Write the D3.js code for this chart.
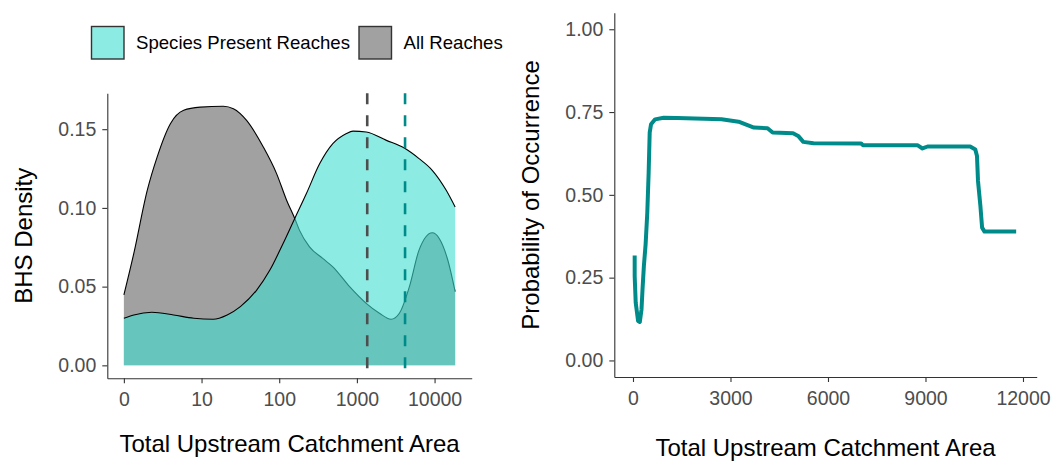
<!DOCTYPE html>
<html>
<head>
<meta charset="utf-8">
<script src="https://cdn.jsdelivr.net/npm/d3@7"></script>
<style>
  body { margin: 0; background: #fff; }
  text { font-family: 'Liberation Sans', Arial, sans-serif; }
</style>
</head>
<body>
<div id="chart"></div>
<script>
// density panel: x is log10 of upstream area
const logTicks = [0, 1, 2, 3, 4]
const logTickLabels = ['0', '10', '100', '1000', '10000']
const densityTicks = [0, 0.05, 0.1, 0.15]

const allReachesX = [0, 0.128, 0.3, 0.428, 0.599, 0.77, 0.983, 1.28, 1.41, 1.58, 1.795, 1.966, 2.095, 2.2, 2.26, 2.39, 2.56, 2.69, 2.906, 3.12, 3.29, 3.44, 3.547, 3.676, 3.8, 3.97, 4.06, 4.17, 4.265]
const allReachesY = [0.0447, 0.0711, 0.111, 0.1323, 0.1535, 0.162, 0.164, 0.1646, 0.163, 0.1556, 0.1387, 0.1218, 0.1049, 0.0933, 0.0859, 0.0753, 0.0679, 0.0626, 0.05, 0.0394, 0.0331, 0.0293, 0.0331, 0.05, 0.0732, 0.0842, 0.0806, 0.0669, 0.0468]

const presentX = [0, 0.128, 0.36, 0.64, 0.9, 1.15, 1.33, 1.5, 1.71, 1.88, 2.05, 2.2, 2.35, 2.52, 2.69, 2.86, 2.95, 3.12, 3.38, 3.61, 3.8, 3.97, 4.15, 4.265]
const presentY = [0.0299, 0.032, 0.0337, 0.032, 0.0299, 0.0293, 0.032, 0.0373, 0.0478, 0.0605, 0.0774, 0.0933, 0.1091, 0.128, 0.1408, 0.1471, 0.1488, 0.1482, 0.1429, 0.138, 0.1313, 0.1239, 0.1112, 0.1006]

// mean lines (log10 area)
const meanAll = 3.133
const meanPresent = 3.62

const legendLabels = ['Species Present Reaches', 'All Reaches']

// occurrence panel
const areaTicks = [0, 3000, 6000, 9000, 12000]
const probTicks = [0, 0.25, 0.5, 0.75, 1]
const probArea = [52, 52, 84, 157, 210, 262, 293, 335, 388, 440, 482, 514, 555, 681, 943, 1362, 2725, 3249, 3720, 4140, 4297, 4926, 5083, 5240, 5554, 7022, 7074, 8750, 8908, 9065, 10375, 10533, 10585, 10616, 10690, 10742, 10816, 11790]
const probValue = [0.317, 0.255, 0.174, 0.119, 0.116, 0.154, 0.214, 0.285, 0.35, 0.446, 0.567, 0.688, 0.713, 0.728, 0.733, 0.732, 0.728, 0.721, 0.703, 0.701, 0.688, 0.686, 0.678, 0.66, 0.656, 0.655, 0.65, 0.65, 0.64, 0.646, 0.646, 0.637, 0.617, 0.542, 0.466, 0.401, 0.389, 0.389]

const svg = d3.select('#chart')
  .append('svg')
  .attr('width', 1054)
  .attr('height', 463)

const axisColor = '#333333'
const tickTextColor = '#4d4d4d'

function styleAxis(g) {
  g.select('.domain').attr('stroke', axisColor).attr('stroke-width', 1.1)
  g.selectAll('.tick line').attr('stroke', axisColor).attr('stroke-width', 1.1)
  g.selectAll('.tick text')
    .attr('fill', tickTextColor)
    .attr('font-size', 19.5)
    .attr('font-family', "'Liberation Sans', Arial, sans-serif")
}

/* ---------- left panel ---------- */
const xL = d3.scaleLinear().domain([-0.2133, 4.478]).range([107.3, 471.7])
const yL = d3.scaleLinear().domain([-0.00823, 0.1728]).range([378.3, 93.3])

const allData = allReachesX.map((x, i) => ({ x: x, y: allReachesY[i] }))
const presentData = presentX.map((x, i) => ({ x: x, y: presentY[i] }))

const area = d3.area()
  .x(d => xL(d.x))
  .y0(yL(0))
  .y1(d => yL(d.y))
  .curve(d3.curveMonotoneX)

const topLine = d3.line()
  .x(d => xL(d.x))
  .y(d => yL(d.y))
  .curve(d3.curveMonotoneX)

svg.append('path')
  .datum(allData)
  .attr('d', area)
  .attr('fill', '#a1a1a1')

svg.append('path')
  .datum(allData)
  .attr('d', topLine)
  .attr('fill', 'none')
  .attr('stroke', '#000')
  .attr('stroke-width', 1.1)

svg.append('path')
  .datum(presentData)
  .attr('d', area)
  .attr('fill', '#40e0d0')
  .attr('fill-opacity', 0.6)

svg.append('path')
  .datum(presentData)
  .attr('d', topLine)
  .attr('fill', 'none')
  .attr('stroke', '#000')
  .attr('stroke-width', 1.1)

// mean lines
svg.selectAll('.mean-line')
  .data([{ x: meanAll, c: '#4d4d4d' }, { x: meanPresent, c: '#008b8b' }])
  .enter()
  .append('line')
  .attr('class', 'mean-line')
  .attr('x1', d => xL(d.x))
  .attr('x2', d => xL(d.x))
  .attr('y1', 93.3)
  .attr('y2', 378.3)
  .attr('stroke', d => d.c)
  .attr('stroke-width', 2.6)
  .attr('stroke-dasharray', '11,11')

svg.append('g')
  .attr('transform', 'translate(0,378.3)')
  .call(d3.axisBottom(xL).tickValues(logTicks).tickFormat((d, i) => logTickLabels[i]).tickSize(5).tickSizeOuter(0).tickPadding(8.7))
  .call(styleAxis)

svg.append('g')
  .attr('transform', 'translate(107.3,0)')
  .call(d3.axisLeft(yL).tickValues(densityTicks).tickFormat(d3.format('.2f')).tickSize(5).tickSizeOuter(0).tickPadding(6))
  .call(styleAxis)

svg.append('text')
  .text('Total Upstream Catchment Area')
  .attr('x', 289.5)
  .attr('y', 452)
  .attr('text-anchor', 'middle')
  .attr('font-size', 24)
  .attr('fill', '#000')

svg.append('text')
  .text('BHS Density')
  .attr('transform', 'translate(32,235.8) rotate(-90)')
  .attr('text-anchor', 'middle')
  .attr('font-size', 24)
  .attr('fill', '#000')

// legend
const legendFill = [{ fill: '#40e0d0', op: 0.6 }, { fill: '#a1a1a1', op: 1 }]
const legendX = [91, 358.5]
const legend = svg.append('g')

legend.selectAll('.legend-entry')
  .data(legendLabels)
  .enter()
  .append('g')
  .attr('class', 'legend-entry')
  .attr('transform', (d, i) => `translate(${legendX[i]},26)`)
  .each(function(d, i) {
    let g = d3.select(this)
    g.append('rect')
      .attr('x', 0.5)
      .attr('y', 0.5)
      .attr('width', 32.5)
      .attr('height', 32.5)
      .attr('fill', legendFill[i].fill)
      .attr('fill-opacity', legendFill[i].op)
      .attr('stroke', '#333')
      .attr('stroke-width', 1.4)
    g.append('text')
      .text(d)
      .attr('x', 45)
      .attr('y', 23)
      .attr('font-size', 18.6)
      .attr('fill', '#000')
  })

/* ---------- right panel ---------- */
const xR = d3.scaleLinear().domain([-575, 12422]).range([614.3, 1036.7])
const yR = d3.scaleLinear().domain([-0.05, 1.05]).range([377, 12.7])

const probData = probArea.map((x, i) => ({ x: x, y: probValue[i] }))

svg.append('path')
  .datum(probData)
  .attr('d', d3.line().x(d => xR(d.x)).y(d => yR(d.y)))
  .attr('fill', 'none')
  .attr('stroke', '#008b8b')
  .attr('stroke-width', 4)
  .attr('stroke-linejoin', 'round')

svg.append('g')
  .attr('transform', 'translate(0,377)')
  .call(d3.axisBottom(xR).tickValues(areaTicks).tickFormat(d3.format('d')).tickSize(5).tickSizeOuter(0).tickPadding(8.7))
  .call(styleAxis)

svg.append('g')
  .attr('transform', 'translate(614.3,0)')
  .call(d3.axisLeft(yR).tickValues(probTicks).tickFormat(d3.format('.2f')).tickSize(5).tickSizeOuter(0).tickPadding(6))
  .call(styleAxis)

svg.append('text')
  .text('Total Upstream Catchment Area')
  .attr('x', 825.5)
  .attr('y', 456)
  .attr('text-anchor', 'middle')
  .attr('font-size', 24)
  .attr('fill', '#000')

svg.append('text')
  .text('Probability of Occurrence')
  .attr('transform', 'translate(539,195) rotate(-90)')
  .attr('text-anchor', 'middle')
  .attr('font-size', 24)
  .attr('fill', '#000')
</script>
</body>
</html>
